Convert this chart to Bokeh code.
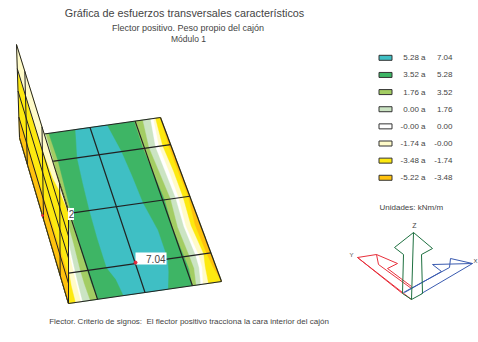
from bokeh.plotting import figure
from bokeh.models import Range1d, Label
from bokeh.embed import file_html
from bokeh.resources import INLINE

W, H = 478, 342
FONT = "Liberation Sans"
INK = "#444444"

legend_lo = ["5.28 a", "3.52 a", "1.76 a", "0.00 a", "-0.00 a", "-1.74 a", "-3.48 a", "-5.22 a"]
legend_hi = ["7.04", "5.28", "3.52", "1.76", "0.00", "-0.00", "-1.74", "-3.48"]
TEAL, GREEN, LIME, PALE, WHITE, CREAM, YELLOW, ORANGE = legend_colors = [
    "#3fbfc4", "#3eb565", "#a3cd63", "#cbe4c3", "#ffffff", "#fffbc9", "#fde910", "#ffc20e"]

# plate corners: far-left, far-right, near-right, near-left
plate = [(19, 137), (160, 117), (221, 281), (68, 303)]
long_far = [0.0, 0.17, 0.50, 0.82, 1.0]
long_near = [0.0, 0.19, 0.50, 0.81, 1.0]
cross_v = [0.0, 0.165, 0.48, 0.825, 1.0]

# contour boundaries: position across the plate (u) at each position along it (v)
band_v = [0.0, 0.165, 0.32, 0.48, 0.65, 0.825, 0.9, 1.0]
teal_left = [0.397, 0.347, 0.33, 0.317, 0.31, 0.31, 0.345, 0.36]
teal_right = [0.62, 0.655, 0.67, 0.68, 0.715, 0.713, 0.69, 0.65]
right_bounds = [
    (LIME,   [0.815, 0.81, 0.82, 0.83, 0.816, 0.824, 0.827, 0.81]),
    (PALE,   [0.875, 0.85, 0.86, 0.87, 0.85, 0.858, 0.86, 0.835]),
    (WHITE,  [0.93, 0.895, 0.90, 0.905, 0.891, 0.899, 0.893, 0.865]),
    (CREAM,  [0.95, 0.92, 0.925, 0.925, 0.905, 0.919, 0.913, 0.88]),
    (YELLOW, [0.965, 0.945, 0.955, 0.955, 0.939, 0.953, 0.933, 0.915]),
    (ORANGE, [1.0, 0.985, 0.985, 0.99, 0.966, 0.973, 0.98, 1.0]),
]
left_bounds = [
    (LIME,   [0.205, 0.21, 0.20, 0.19, 0.18, 0.18, 0.18, 0.19]),
    (PALE,   [0.185, 0.18, 0.165, 0.15, 0.145, 0.135, 0.135, 0.14]),
    (WHITE,  [0.16, 0.15, 0.14, 0.13, 0.115, 0.10, 0.095, 0.09]),
    (CREAM,  [0.14, 0.13, 0.12, 0.10, 0.105, 0.09, 0.085, 0.08]),
    (YELLOW, [0.10, 0.10, 0.09, 0.07, 0.065, 0.06, 0.05, 0.045]),
    (ORANGE, [0.04, 0.04, 0.04, 0.02, 0.02, 0.01, 0.0, 0.0]),
]

wall = [(16, 44), (68, 212), (68, 303), (19, 137)]
wall_cols = [0.0, 0.16, 0.49, 0.83, 1.0]
wall_rows = [0.0, 0.26, 0.5, 0.78, 1.0]
wall_u = [0.0, 0.16, 0.49, 0.70, 0.83, 1.0]
wall_cream_end = [0.26, 0.26, 0.25, 0.18, 0.08, 0.0]
wall_orange_start = [0.78, 0.78, 0.75, 0.73, 0.72, 0.70]

triad_red = [
    [(357, 257), (411, 299)],
    [(357, 257), (402, 293)],
    [(357, 257), (376, 254), (397, 263), (387, 268), (411, 286)],
    [(376, 254), (378, 264), (411, 288)],
]
triad_blue = [
    [(472, 263), (450, 258), (449, 267), (403, 292)],
    [(472, 263), (432, 264), (441, 271), (404, 292)],
    [(472, 263), (421, 293)],
]
triad_green = [
    [(402, 293), (403, 254), (394, 247), (413, 232), (432, 248), (421, 254), (422, 293)],
    [(413, 232), (411, 299)],
    [(402, 293), (411, 299), (422, 293)],
]


def bil(quad, u, v):
    a, b, c, d = quad
    x = (1 - v) * ((1 - u) * a[0] + u * b[0]) + v * ((1 - u) * d[0] + u * c[0])
    y = (1 - v) * ((1 - u) * a[1] + u * b[1]) + v * ((1 - u) * d[1] + u * c[1])
    return x, y


p = figure(width=W, height=H, x_range=Range1d(0, W), y_range=Range1d(H, 0),
           output_backend="svg", toolbar_location=None, min_border=0)
p.axis.visible = False
p.grid.visible = False
p.outline_line_color = None


def fill(pts, color):
    p.patch([q[0] for q in pts], [q[1] for q in pts], fill_color=color, line_color=color, line_width=0.4)


def band(color, us1, us2):
    pts = [bil(plate, u, v) for u, v in zip(us1, band_v)]
    pts += [bil(plate, u, v) for u, v in reversed(list(zip(us2, band_v)))]
    fill(pts, color)


n = len(band_v)
band(GREEN, [0.0] * n, [1.0] * n)
for color, us in right_bounds:
    band(color, us, [1.0] * n)
for color, us in left_bounds:
    band(color, [0.0] * n, us)
band(TEAL, teal_left, teal_right)

for a_u, b_u in zip(long_far, long_near):
    a, b = bil(plate, a_u, 0), bil(plate, b_u, 1)
    p.line([a[0], b[0]], [a[1], b[1]], line_color="#222222", line_width=1.2)
for v in cross_v:
    a, b = bil(plate, 0, v), bil(plate, 1, v)
    p.line([a[0], b[0]], [a[1], b[1]], line_color="#222222", line_width=1.2)

fill(wall, YELLOW)
fill([bil(wall, u, v) for u, v in zip(wall_u, wall_cream_end)] + [bil(wall, 1, 0), bil(wall, 0, 0)], CREAM)
fill([bil(wall, u, v) for u, v in zip(wall_u, wall_orange_start)] + [bil(wall, 1, 1), bil(wall, 0, 1)], ORANGE)
for u in wall_cols:
    a, b = bil(wall, u, 0), bil(wall, u, 1)
    p.line([a[0], b[0]], [a[1], b[1]], line_color="#222222", line_width=1.0)
for v in wall_rows:
    a, b = bil(wall, 0, v), bil(wall, 1, v)
    p.line([a[0], b[0]], [a[1], b[1]], line_color="#222222", line_width=1.0)


def text(x, y, s, size, align="left", color=INK):
    p.add_layout(Label(x=x, y=y, text=s, text_font=FONT, text_font_size=f"{size}px", text_color=color,
                       text_align=align, text_baseline="middle"))


text(184, 12, "Gráfica de esfuerzos transversales característicos", 10.8, "center")
text(187.5, 27, "Flector positivo. Peso propio del cajón", 9, "center")
text(188, 38, "Módulo 1", 8.5, "center")
text(188.5, 321, "Flector. Criterio de signos:\u00a0\u00a0El flector positivo tracciona la cara interior del cajón", 8, "center")

for i, (lo, hi, c) in enumerate(zip(legend_lo, legend_hi, legend_colors)):
    y = 57.3 + i * 17.14
    p.quad(left=378.5, right=391.5, top=y - 2.5, bottom=y + 2.5, fill_color=c, line_color="#333333", line_width=1)
    text(425, y, lo, 8, "right")
    text(452, y, hi, 8, "right")
text(379, 207, "Unidades: kNm/m", 8)

p.rect(70.5, 213.5, 6, 12, fill_color="white", line_color=None)
text(71, 213.5, "2", 10, "center")
p.scatter([42], [215], size=2, color="#e6283c")
p.rect(150.5, 258, 31, 12, fill_color="white", line_color=None)
text(165, 258, "7.04", 10, "right")
p.scatter([135], [262], size=3, color="#e6283c")

for group, col in [(triad_red, "#e8303c"), (triad_blue, "#3a5bb0"), (triad_green, "#1e7040")]:
    for seg in group:
        p.line([a[0] for a in seg], [a[1] for a in seg], line_color=col, line_width=1)
text(414, 225, "Z", 7, "center")
text(351, 254, "Y", 6, "center")
text(477, 260, "X", 6, "right")

open("out.html", "w").write(file_html(p, INLINE))
